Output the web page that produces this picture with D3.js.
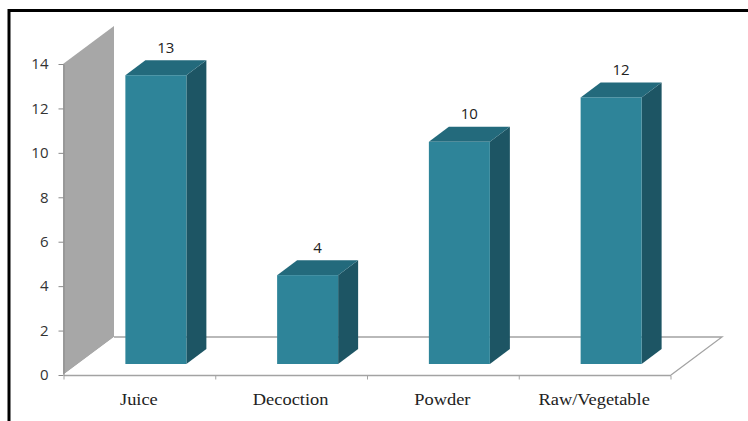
<!DOCTYPE html>
<html>
<head>
<meta charset="utf-8">
<script src="https://cdn.jsdelivr.net/npm/d3@7"></script>
<style>
  html, body { margin: 0; padding: 0; background: #fff; }
  svg { display: block; }
</style>
</head>
<body>
<svg id="chart" width="748" height="421"></svg>
<script>
// Preparation forms and number of uses
const categories = ["Juice", "Decoction", "Powder", "Raw/Vegetable"];
const counts = [13, 4, 10, 12];
const yTicks = [0, 2, 4, 6, 8, 10, 12, 14];

const svg = d3.select("#chart");

// Front-plane scales
const x = d3.scaleBand().domain(categories).range([64, 671]).paddingInner(0).paddingOuter(0);
const y = d3.scaleLinear().domain([0, 14]).range([375, 64]);

// 3D projection offsets
const floorDepth = { dx: 51, dy: -38 };   // full depth of wall/floor
const barShift = { dx: 16, dy: -11 };     // bar front plane inside the floor
const barDepth = { dx: 20, dy: -15 };     // thickness of each bar
const barWidth = 61;

const colors = {
  wall: "#a7a7a7",
  floorStroke: "#a3a3a3",
  front: "#2e8499",
  top: "#236a7c",
  side: "#1d5564",
  text: "#333"
};

// Outer frame
svg.append("line").attr("x1", 8).attr("x2", 748).attr("y1", 10.5).attr("y2", 10.5)
  .attr("stroke", "#000").attr("stroke-width", 3);
svg.append("line").attr("x1", 9).attr("x2", 9).attr("y1", 9).attr("y2", 421)
  .attr("stroke", "#000").attr("stroke-width", 3);

const [x0, x1] = x.range();
const y0 = y(0), yTop = y(14);

// Back (side) wall
svg.append("polygon")
  .attr("points", [
    [x0 - 1, yTop], [x0 - 1 + floorDepth.dx, yTop + floorDepth.dy],
    [x0 - 1 + floorDepth.dx, y0 + floorDepth.dy], [x0 - 1, y0]
  ].map(p => p.join(",")).join(" "))
  .attr("fill", colors.wall);

// Floor
svg.append("polygon")
  .attr("points", [
    [x0 - 1, y0], [x0 - 1 + floorDepth.dx, y0 + floorDepth.dy],
    [x1 + floorDepth.dx, y0 + floorDepth.dy], [x1, y0]
  ].map(p => p.join(",")).join(" "))
  .attr("fill", "#fff");
svg.append("polyline")
  .attr("points", [
    [x0 - 1 + floorDepth.dx, y0 + floorDepth.dy],
    [x1 + floorDepth.dx, y0 + floorDepth.dy], [x1, y0]
  ].map(p => p.join(",")).join(" "))
  .attr("fill", "none").attr("stroke", colors.floorStroke).attr("stroke-width", 1.3);

// Category axis along the front edge of the floor
const xAxis = svg.append("g").attr("transform", `translate(0,${y0 + 0.5})`);
xAxis.append("line").attr("x1", x0).attr("x2", x1).attr("y1", 0).attr("y2", 0)
  .attr("stroke", colors.floorStroke).attr("stroke-width", 1.3);
xAxis.selectAll("line.tick")
  .data(categories.map(c => x(c)).concat([x1]))
  .join("line").attr("class", "tick")
  .attr("x1", d => d).attr("x2", d => d).attr("y1", 0).attr("y2", 4)
  .attr("stroke", colors.floorStroke);
xAxis.selectAll("text")
  .data(categories)
  .join("text")
  .attr("transform", d => `translate(${x(d) + x.bandwidth() / 2 - 1},29) scale(1.15,1)`)
  .attr("text-anchor", "middle")
  .attr("font-family", "'Liberation Serif', 'Times New Roman', serif")
  .attr("font-size", 16)
  .attr("fill", "#222")
  .text(d => d);

// Value axis
const yAxis = svg.append("g").attr("transform", `translate(${x0 - 0.5},0)`)
  .call(d3.axisLeft(y).tickValues(yTicks).tickSize(5).tickPadding(10).tickSizeOuter(0));
yAxis.select(".domain").attr("stroke", "#8a8a8a");
yAxis.selectAll(".tick line").attr("stroke", "#8a8a8a");
yAxis.selectAll(".tick text")
  .attr("font-family", "'Open Sans', 'Noto Sans', sans-serif")
  .attr("font-size", 15)
  .attr("fill", colors.text);

// 3D bars
const bars = svg.append("g");
const data = categories.map((c, i) => ({ cat: c, value: counts[i] }));

data.forEach(d => {
  const left = x(d.cat) + (x.bandwidth() - barWidth) / 2 + barShift.dx;
  const right = left + barWidth;
  const bottom = y(0) + barShift.dy;
  const top = y(d.value) + barShift.dy;
  const g = bars.append("g");
  // side face
  g.append("polygon").attr("points", [
    [right, top], [right + barDepth.dx, top + barDepth.dy],
    [right + barDepth.dx, bottom + barDepth.dy], [right, bottom]
  ].map(p => p.join(",")).join(" ")).attr("fill", colors.side);
  // top face
  g.append("polygon").attr("points", [
    [left, top], [left + barDepth.dx, top + barDepth.dy],
    [right + barDepth.dx, top + barDepth.dy], [right, top]
  ].map(p => p.join(",")).join(" ")).attr("fill", colors.top);
  // front face
  g.append("rect")
    .attr("x", left).attr("y", top)
    .attr("width", barWidth).attr("height", bottom - top)
    .attr("fill", colors.front);
  // value label
  g.append("text")
    .attr("x", left + barWidth / 2 + barDepth.dx / 2)
    .attr("y", top + barDepth.dy / 2 - 15)
    .attr("text-anchor", "middle")
    .attr("font-family", "'Open Sans', 'Noto Sans', sans-serif")
    .attr("font-size", 15)
    .attr("fill", "#222")
    .text(d.value);
});
</script>
</body>
</html>
